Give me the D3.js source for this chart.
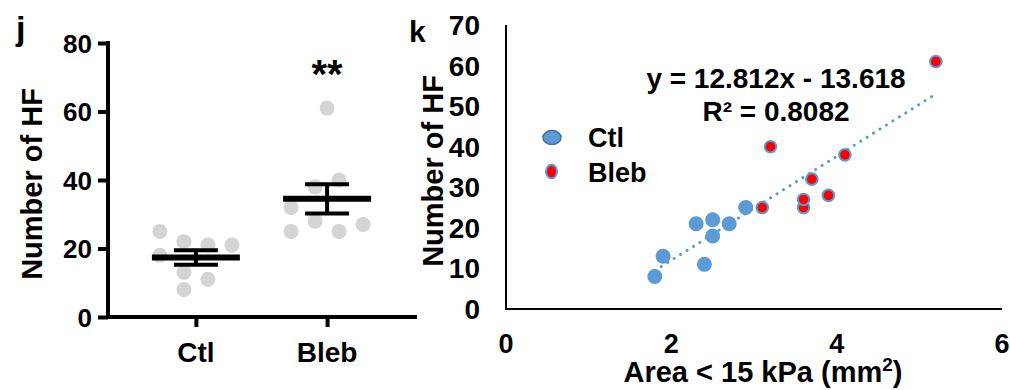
<!DOCTYPE html>
<html>
<head>
<meta charset="utf-8">
<script src="https://cdn.jsdelivr.net/npm/d3@7"></script>
<style>
  html, body { margin: 0; padding: 0; background: #fff; }
  svg { display: block; font-family: "Liberation Sans", Arial, Helvetica, sans-serif; font-weight: bold; }
</style>
</head>
<body>
<svg id="chart" width="1010" height="390"></svg>
<script>
// panel j: number of HF per sample
const groups = ['Ctl', 'Bleb']
const ctlCounts = [25, 18, 22, 21, 21, 13, 11, 8]
const ctlJitter = [-1.5, -1.5, -0.5, 0.5, 1.5, -0.5, 0.5, -0.5]
const blebCounts = [61, 40, 38, 32, 28, 27, 25, 25]
const blebJitter = [0, 0.5, -0.5, -1.5, -0.5, 1.5, -1.5, 0.5]
const jTicks = [0, 20, 40, 60, 80]

// panel k: HF vs soft area
const ctlArea = [1.8, 1.9, 2.4, 2.3, 2.5, 2.5, 2.7, 2.9]
const ctlHF = [8, 13, 11, 21, 22, 18, 21, 25]
const blebArea = [3.1, 3.2, 3.6, 3.6, 3.7, 3.9, 4.1, 5.2]
const blebHF = [25, 40, 25, 27, 32, 28, 38, 61]
const fitSlope = 12.812
const fitIntercept = -13.618
const fitR2 = 0.8082
const kXTicks = [0, 2, 4, 6]
const kYTicks = [0, 10, 20, 30, 40, 50, 60, 70]

const BLUE = '#5b9bd5'
const RED = '#ff0000'
const GREY = '#d4d4d4'

const svg = d3.select('#chart')

function label(g, x, y, txt, size, anchor = 'middle', rot = 0) {
  return g.append('text')
    .attr('transform', `translate(${x},${y}) rotate(${rot})`)
    .attr('text-anchor', anchor)
    .attr('font-size', size)
    .attr('fill', '#000')
    .text(txt)
}

// ---------- panel j ----------
const j = svg.append('g')
const jy = d3.scaleLinear().domain([0, 80]).range([317, 43])
const jx = d3.scalePoint().domain(groups).range([108, 415]).padding(0.67)
const jitterStep = 24

j.append('g')
  .attr('transform', 'translate(108,0)')
  .call(d3.axisLeft(jy).tickValues(jTicks).tickSize(10).tickSizeOuter(0).tickPadding(6))
  .call(g => {
    g.select('.domain').attr('stroke-width', 4).attr('d', `M0,${jy(80) - 2}V${jy(0) + 2}`)
    g.selectAll('.tick line').attr('stroke-width', 4)
    g.selectAll('.tick text').attr('font-size', 26).attr('font-family', null).attr('dy', '0.36em')
  })

j.append('g')
  .attr('transform', `translate(0,${jy(0)})`)
  .call(d3.axisBottom(jx).tickSize(10).tickSizeOuter(0).tickFormat(''))
  .call(g => {
    g.select('.domain').attr('stroke-width', 4).attr('d', 'M106,0H417')
    g.selectAll('.tick line').attr('stroke-width', 4)
  })

groups.forEach(gr => label(j, jx(gr), 362, gr, 28))

label(j, 42, 184, 'Number of HF', 29, 'middle', -90)
label(j, 16, 40, 'j', 34, 'start')
label(j, jx('Bleb'), 88, '**', 40)

const jSets = [
  { group: 'Ctl', counts: ctlCounts, jitter: ctlJitter },
  { group: 'Bleb', counts: blebCounts, jitter: blebJitter },
]

jSets.forEach(s => {
  j.append('g').selectAll('circle')
    .data(s.counts)
    .join('circle')
    .attr('cx', (d, i) => jx(s.group) + s.jitter[i] * jitterStep)
    .attr('cy', d => jy(d))
    .attr('r', 7.5)
    .attr('fill', GREY)

  const m = d3.mean(s.counts)
  const sem = d3.deviation(s.counts) / Math.sqrt(s.counts.length)
  const cx = jx(s.group)
  const bars = j.append('g').attr('stroke', '#000')
  bars.append('line').attr('x1', cx - 44).attr('x2', cx + 44)
    .attr('y1', jy(m)).attr('y2', jy(m)).attr('stroke-width', 6)
  bars.append('line').attr('x1', cx).attr('x2', cx)
    .attr('y1', jy(m + sem)).attr('y2', jy(m - sem)).attr('stroke-width', 4)
  ;[m + sem, m - sem].forEach(v => {
    bars.append('line').attr('x1', cx - 22).attr('x2', cx + 22)
      .attr('y1', jy(v)).attr('y2', jy(v)).attr('stroke-width', 4)
  })
})

// ---------- panel k ----------
const k = svg.append('g')
const kx = d3.scaleLinear().domain([0, 6]).range([506, 1002])
const ky = d3.scaleLinear().domain([0, 70]).range([309, 25])

k.append('line').attr('x1', kx(0)).attr('x2', kx(0)).attr('y1', ky(70)).attr('y2', ky(0) + 1)
  .attr('stroke', '#000').attr('stroke-width', 2)
k.append('line').attr('x1', kx(0) - 1).attr('x2', kx(6)).attr('y1', ky(0)).attr('y2', ky(0))
  .attr('stroke', '#000').attr('stroke-width', 2)

kYTicks.forEach(t => label(k, 480, ky(t) + 10, t, 28, 'end'))
kXTicks.forEach(t => label(k, kx(t), 353, t, 27, 'middle'))

const xTitle = label(k, 763, 382, 'Area < 15 kPa (mm', 29, 'middle')
xTitle.append('tspan').attr('font-size', 19).attr('dy', -11).text('2')
xTitle.append('tspan').attr('dy', 11).text(')')
label(k, 443, 171, 'Number of HF', 29, 'middle', -90)
label(k, 409, 42, 'k', 30, 'start')

// trendline
const xMin = d3.min([...ctlArea, ...blebArea])
const xMax = d3.max([...ctlArea, ...blebArea])
k.append('line')
  .attr('x1', kx(xMin)).attr('y1', ky(fitSlope * xMin + fitIntercept))
  .attr('x2', kx(xMax)).attr('y2', ky(fitSlope * xMax + fitIntercept))
  .attr('stroke', BLUE)
  .attr('stroke-width', 3)
  .attr('stroke-linecap', 'round')
  .attr('stroke-dasharray', '0.1,7.5')

k.append('g').selectAll('circle')
  .data(ctlArea.map((a, i) => [a, ctlHF[i]]))
  .join('circle')
  .attr('cx', d => kx(d[0]))
  .attr('cy', d => ky(d[1]))
  .attr('r', 7.5)
  .attr('fill', BLUE)

k.append('g').selectAll('circle')
  .data(blebArea.map((a, i) => [a, blebHF[i]]))
  .join('circle')
  .attr('cx', d => kx(d[0]))
  .attr('cy', d => ky(d[1]))
  .attr('r', 5.8)
  .attr('fill', RED)
  .attr('stroke', BLUE)
  .attr('stroke-width', 2)

label(k, 776, 88, `y = ${fitSlope}x - ${Math.abs(fitIntercept)}`, 28, 'middle')
label(k, 776, 121, `R² = ${fitR2}`, 28, 'middle')

// legend
k.append('ellipse').attr('cx', 552).attr('cy', 137.5).attr('rx', 9).attr('ry', 7)
  .attr('fill', BLUE).attr('stroke', '#41719c').attr('stroke-width', 1.5)
k.append('ellipse').attr('cx', 551.5).attr('cy', 171.5).attr('rx', 5.5).attr('ry', 6.8)
  .attr('fill', RED).attr('stroke', BLUE).attr('stroke-width', 2)
label(k, 588, 147, 'Ctl', 27, 'start')
label(k, 588, 182, 'Bleb', 27, 'start')
</script>
</body>
</html>
